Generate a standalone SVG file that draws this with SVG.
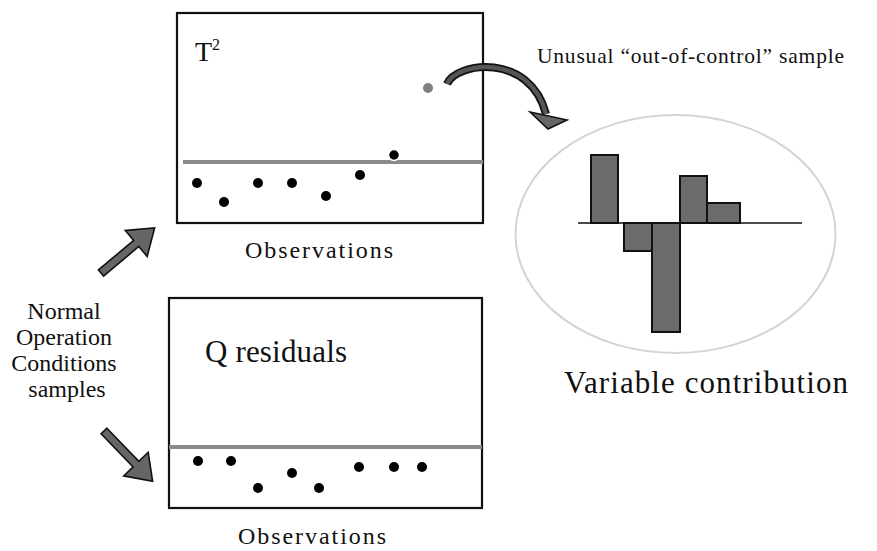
<svg xmlns="http://www.w3.org/2000/svg" width="877" height="551" viewBox="0 0 877 551">
<style>
  .box{fill:#fff;stroke:#111;stroke-width:2.2}
  .lim{stroke:#8a8a8a;stroke-width:4}
  .dot{fill:#000}
  .t{font-family:"Liberation Serif","DejaVu Serif","Times New Roman",serif;fill:#111}
  .bar{fill:#6b6b6b;stroke:#111;stroke-width:2}
  .blk{fill:#666;stroke:#111;stroke-width:1.6;stroke-linejoin:miter}
</style>
<rect width="877" height="551" fill="#fff"/>

<g id="t2-chart">
  <rect class="box" x="177" y="13" width="306" height="210"/>
  <line class="lim" x1="183" y1="162" x2="483" y2="162"/>
  <circle class="dot" cx="197" cy="183" r="5"/>
  <circle class="dot" cx="224" cy="202" r="5"/>
  <circle class="dot" cx="258" cy="183" r="5"/>
  <circle class="dot" cx="292" cy="183" r="5"/>
  <circle class="dot" cx="326" cy="196" r="5"/>
  <circle class="dot" cx="360" cy="175" r="5"/>
  <circle cx="394" cy="155" r="5.5" fill="#000" stroke="#fff" stroke-width="1.5"/>
  <circle cx="428" cy="88" r="5" fill="#808080"/>
  <text class="t" font-family="Liberation Serif, DejaVu Serif, serif" x="195" y="61" font-size="28">T<tspan font-size="16" dy="-11">2</tspan></text>
  <text class="t" font-family="Liberation Serif, DejaVu Serif, serif" x="319" y="258" font-size="24" text-anchor="middle" textLength="148" lengthAdjust="spacing">Observations</text>
</g>

<g id="q-chart">
  <rect class="box" x="169" y="298" width="313" height="210"/>
  <line class="lim" x1="169" y1="447" x2="482" y2="447"/>
  <circle class="dot" cx="198" cy="461" r="5"/>
  <circle class="dot" cx="231" cy="461" r="5"/>
  <circle class="dot" cx="258" cy="488" r="5"/>
  <circle class="dot" cx="292" cy="473" r="5"/>
  <circle class="dot" cx="319" cy="488" r="5"/>
  <circle class="dot" cx="359" cy="467" r="5"/>
  <circle class="dot" cx="394" cy="467" r="5"/>
  <circle class="dot" cx="422" cy="467" r="5"/>
  <text class="t" font-family="Liberation Serif, DejaVu Serif, serif" x="205" y="362" font-size="31" textLength="142" lengthAdjust="spacing">Q residuals</text>
  <text class="t" font-family="Liberation Serif, DejaVu Serif, serif" x="312" y="544" font-size="24" text-anchor="middle" textLength="148" lengthAdjust="spacing">Observations</text>
</g>

<g id="contribution">
  <ellipse cx="675.5" cy="234" rx="160" ry="119" fill="none" stroke="#d4d4d4" stroke-width="2"/>
  <rect class="bar" x="591" y="155" width="27" height="68"/>
  <rect class="bar" x="624" y="223" width="28" height="28"/>
  <rect class="bar" x="652" y="223" width="28" height="109"/>
  <rect class="bar" x="680" y="176" width="27" height="47"/>
  <rect class="bar" x="707" y="203" width="33" height="20"/>
  <line x1="578" y1="223" x2="802" y2="223" stroke="#111" stroke-width="1.6"/>
  <text class="t" font-family="Liberation Serif, DejaVu Serif, serif" x="564" y="393" font-size="31" textLength="284" lengthAdjust="spacing">Variable contribution</text>
</g>

<g id="noc-label">
  <text class="t" font-family="Liberation Serif, DejaVu Serif, serif" font-size="24" text-anchor="middle">
    <tspan x="67" y="319">Normal</tspan>
    <tspan x="67" y="345">Operation</tspan>
    <tspan x="67" y="371">Conditions</tspan>
    <tspan x="67" y="397">samples</tspan>
  </text>
</g>

<g id="unusual-label">
  <text class="t" font-family="Liberation Serif, DejaVu Serif, serif" x="537" y="63" font-size="21.5" textLength="307" lengthAdjust="spacing">Unusual “out-of-control” sample</text>
</g>

<g id="connectors">
  <polygon class="blk" transform="translate(101,273) rotate(-40)" points="0,-4 46,-4 46,-17 70,0 46,17 46,4 0,4"/>
  <polygon class="blk" transform="translate(104,431) rotate(46)" points="0,-4 46,-4 46,-17 70,0 46,17 46,4 0,4"/>
  <path d="M447,84 C456,62 530,52 546,114" fill="none" stroke="#111" stroke-width="8"/>
  <path d="M447,84 C456,62 530,52 546,114" fill="none" stroke="#555" stroke-width="4.5"/>
  <polygon class="blk" points="530,112 567,120 548,129"/>
</g>
</svg>
